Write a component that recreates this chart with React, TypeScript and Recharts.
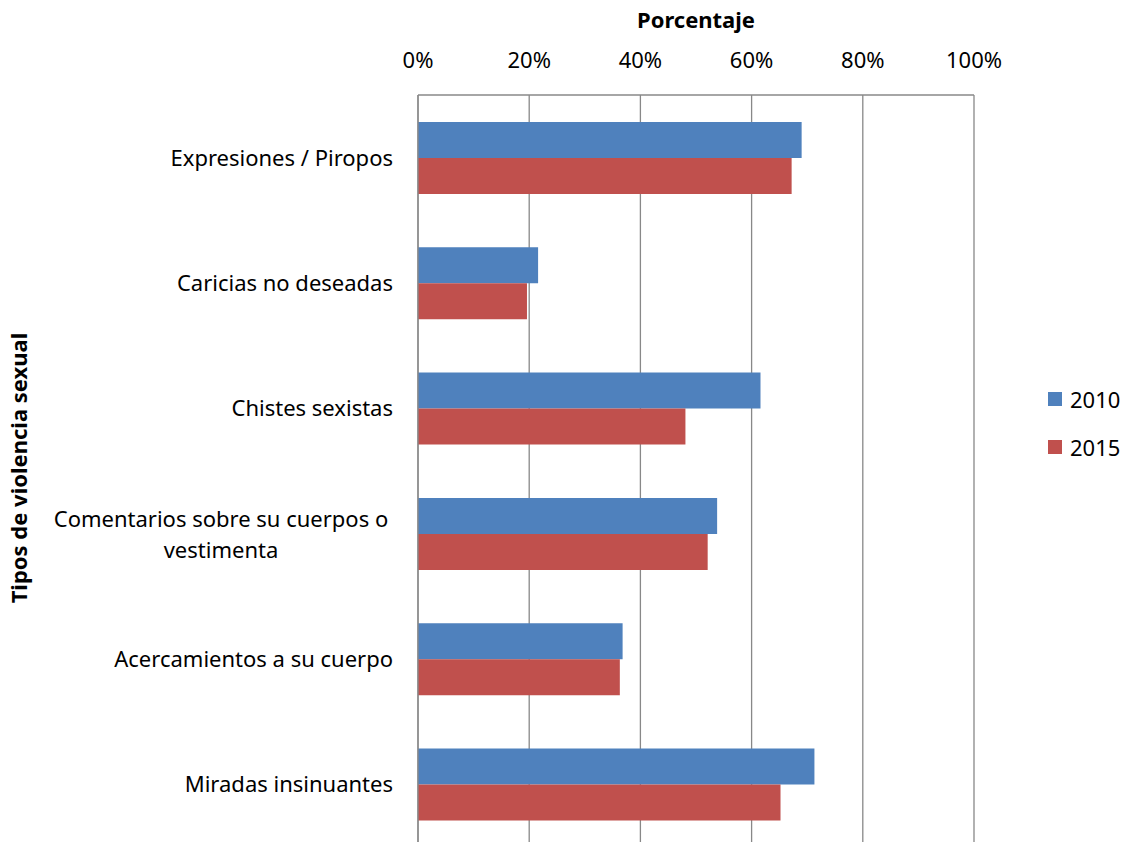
import { BarChart, Bar, XAxis, YAxis, CartesianGrid } from "recharts";

const categories = [
  "Expresiones / Piropos",
  "Caricias no deseadas",
  "Chistes sexistas",
  "Comentarios sobre su cuerpos o\nvestimenta",
  "Acercamientos a su cuerpo",
  "Miradas insinuantes",
];
const values2010 = [69, 21.6, 61.6, 53.8, 36.8, 71.3];
const values2015 = [67.2, 19.6, 48.1, 52.1, 36.3, 65.2];
const xTicks = [0, 20, 40, 60, 80, 100];

const data = categories.map((name, i) => ({
  name,
  y2010: values2010[i],
  y2015: values2015[i],
}));

const FONT = "'Noto Sans', sans-serif";
const FS = 22;

function CategoryTick(props: any) {
  const { y, payload } = props;
  const lines = String(payload.value).split("\n");
  const right = 393;
  if (lines.length === 1) {
    return (
      <text x={right} y={y} dy={8} textAnchor="end" fontSize={FS} fill="#000" fontFamily={FONT}>
        {lines[0]}
      </text>
    );
  }
  const cx = 221;
  return (
    <text x={cx} y={y} textAnchor="middle" fontSize={FS} fill="#000" fontFamily={FONT}>
      {lines.map((l, i) => (
        <tspan key={i} x={cx} dy={i === 0 ? -7 : 31}>
          {l}
        </tspan>
      ))}
    </text>
  );
}

export default function App() {
  return (
    <div style={{ position: "absolute", left: 0, top: 0, width: 1129, height: 842, overflow: "hidden", background: "#fff" }}>
      <BarChart
        width={1129}
        height={847}
        data={data}
        layout="vertical"
        margin={{ top: 45, right: 155, left: 0, bottom: 0 }}
        barCategoryGap="21.5%"
        barGap={0}
      >
        <CartesianGrid horizontal={false} stroke="#888" strokeWidth={1.3} />
        <XAxis
          type="number"
          orientation="top"
          domain={[0, 100]}
          ticks={xTicks}
          tickFormatter={(v) => `${v}%`}
          height={50}
          axisLine={{ stroke: "#888", strokeWidth: 1.3 }}
          tickLine={false}
          tickSize={0}
          tickMargin={27}
          tick={{ fontSize: FS, fill: "#000", fontFamily: FONT }}
        />
        <YAxis
          type="category"
          dataKey="name"
          width={418}
          axisLine={{ stroke: "#888", strokeWidth: 1.3 }}
          tickLine={false}
          tick={<CategoryTick />}
          interval={0}
        />
        <Bar dataKey="y2010" fill="#4F81BD" isAnimationActive={false} />
        <Bar dataKey="y2015" fill="#C0504D" isAnimationActive={false} />
      </BarChart>
      <div style={{ position: "absolute", left: 0, top: 4, width: 1392, textAlign: "center", fontFamily: FONT, fontWeight: "bold", fontSize: FS }}>
        Porcentaje
      </div>
      <div
        style={{
          position: "absolute",
          left: 18,
          top: 468,
          transform: "translate(-50%, -50%) rotate(-90deg)",
          whiteSpace: "nowrap",
          fontFamily: FONT,
          fontWeight: "bold",
          fontSize: FS,
        }}
      >
        Tipos de violencia sexual
      </div>
      {[
        { label: "2010", color: "#4F81BD", top: 384 },
        { label: "2015", color: "#C0504D", top: 432 },
      ].map((it) => (
        <div key={it.label} style={{ position: "absolute", left: 1048, top: it.top, display: "flex", alignItems: "center", fontFamily: FONT, fontSize: FS }}>
          <span style={{ display: "inline-block", width: 14, height: 14, background: it.color, marginRight: 8 }} />
          {it.label}
        </div>
      ))}
    </div>
  );
}
